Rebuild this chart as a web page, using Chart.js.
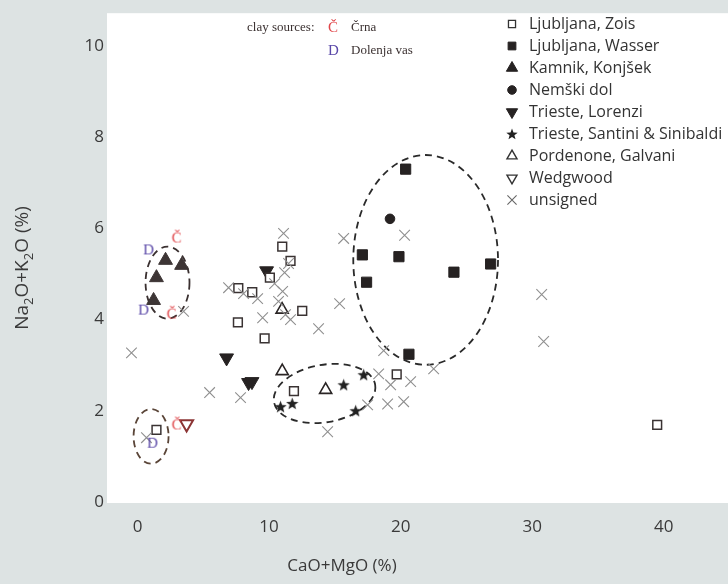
<!DOCTYPE html>
<html><head><meta charset="utf-8">
<script src="https://cdn.jsdelivr.net/npm/chart.js@4.4.0/dist/chart.umd.min.js"></script>
<style>html,body{margin:0;padding:0;background:#dde3e3;overflow:hidden}</style>
</head><body>
<canvas id="c" width="728" height="584" style="width:728px;height:584px;display:block"></canvas>
<script>
// ---- axis ticks ----
const X_TICKS = [0, 10, 20, 30, 40];
const Y_TICKS = [0, 2, 4, 6, 8, 10];
const X_TITLE = 'CaO+MgO (%)';
const Y_TITLE_PARTS = [['Na', 0], ['2', 1], ['O+K', 0], ['2', 1], ['O (%)', 0]];

// ---- series (CaO+MgO %, Na2O+K2O %) ----
const zoisX = [11.0, 11.63, 10.06, 7.66, 8.72, 12.52, 7.63, 9.66, 11.89, 19.7, 1.44, 39.5];
const zoisY = [5.60, 5.29, 4.92, 4.69, 4.60, 4.19, 3.94, 3.59, 2.43, 2.80, 1.58, 1.69];
const wasserX = [20.38, 17.09, 19.87, 24.05, 26.84, 17.41, 20.63];
const wasserY = [7.30, 5.42, 5.38, 5.04, 5.22, 4.82, 3.24];
const kamnikX = [2.13, 3.35, 1.44, 1.22];
const kamnikY = [5.30, 5.19, 4.92, 4.42];
const nemskiX = [19.19];
const nemskiY = [6.21];
const lorenziX = [9.81, 6.77, 8.44, 8.70];
const lorenziY = [5.07, 3.16, 2.62, 2.64];
const santiniX = [10.87, 11.76, 15.67, 17.19, 16.58];
const santiniY = [2.09, 2.16, 2.57, 2.79, 2.00];
const pordenoneX = [11.0, 14.3, 10.99];
const pordenoneY = [2.87, 2.46, 4.22];
const wedgwoodX = [3.73];
const wedgwoodY = [1.71];
const unsignedX = [-0.46, 3.50, 0.68, 5.48, 7.83, 11.10, 6.92, 8.06, 9.13, 9.51, 11.18, 11.03, 10.72, 11.25, 11.63, 13.76, 15.67, 20.30, 15.36, 30.72, 30.87, 14.45, 18.71, 22.51, 18.33, 19.24, 20.76, 19.01, 20.23, 17.49, 10.42, 11.48];
const unsignedY = [3.27, 4.18, 1.41, 2.40, 2.29, 5.89, 4.70, 4.57, 4.46, 4.04, 5.03, 4.62, 4.40, 4.11, 4.00, 3.80, 5.78, 5.85, 4.35, 4.55, 3.52, 1.54, 3.32, 2.92, 2.81, 2.57, 2.64, 2.15, 2.20, 2.13, 4.79, 5.23];
// clay sources
const crnaX = [2.97, 2.59, 2.97];
const crnaY = [5.80, 4.13, 1.70];
const dolenjaX = [0.84, 0.46, 1.14];
const dolenjaY = [5.54, 4.22, 1.30];

// groupings (dashed ellipses): centre and semi-axes in data units
const groupCX = [2.28, 1.03, 21.9, 14.22];
const groupCY = [4.81, 1.44, 5.31, 2.38];
const groupRX = [1.67, 1.33, 5.5, 3.9];
const groupRY = [0.79, 0.60, 2.30, 0.63];

const LABELS = ['Ljubljana, Zois', 'Ljubljana, Wasser', 'Kamnik, Konjšek', 'Nemški dol', 'Trieste, Lorenzi', 'Trieste, Santini & Sinibaldi', 'Pordenone, Galvani', 'Wedgwood', 'unsigned'];
const CLAY_TITLE = 'clay sources:';
const CLAY_NAMES = ['Črna', 'Dolenja vas'];
const CLAY_MARKS = ['Č', 'D'];

function pts(xs, ys) { return xs.map((x, i) => ({x: x, y: ys[i]})); }

function starImg(size, color) {
  const c = document.createElement('canvas'); c.width = size; c.height = size;
  const g = c.getContext('2d'); g.fillStyle = color; g.beginPath();
  const cx = size / 2, cy = size / 2 + 0.5, R = size / 2, r = R * 0.42;
  for (let i = 0; i < 10; i++) {
    const a = -Math.PI / 2 + i * Math.PI / 5; const rr = i % 2 ? r : R;
    g.lineTo(cx + rr * Math.cos(a), cy + rr * Math.sin(a));
  }
  g.closePath(); g.fill(); return c;
}
function letterImg(ch, color) {
  const c = document.createElement('canvas'); c.width = 16; c.height = 20;
  const g = c.getContext('2d'); g.fillStyle = color; g.font = '15px "Liberation Serif", serif';
  g.textAlign = 'center'; g.textBaseline = 'middle'; g.fillText(ch, 8, 11); return c;
}
const STAR = starImg(13, '#222');
const STAR_L = starImg(12, '#222');
const CRNA_IMG = letterImg(CLAY_MARKS[0], '#e0464a');
const DOL_IMG = letterImg(CLAY_MARKS[1], '#5a48a8');

const DARK = '#262222';
const datasets = [
  {label: CLAY_NAMES[0], data: pts(crnaX, crnaY), pointStyle: CRNA_IMG, pointRadius: 8},
  {label: CLAY_NAMES[1], data: pts(dolenjaX, dolenjaY), pointStyle: DOL_IMG, pointRadius: 8},
  {label: LABELS[8], data: pts(unsignedX, unsignedY), pointStyle: 'crossRot', pointRadius: 7.5, borderColor: '#8f8f8f', borderWidth: 1.1, backgroundColor: 'rgba(0,0,0,0)'},
  {label: LABELS[0], data: pts(zoisX, zoisY), pointStyle: 'rect', pointRadius: 6.2, borderColor: '#3a3333', borderWidth: 1.5, backgroundColor: '#ffffff'},
  {label: LABELS[1], data: pts(wasserX, wasserY), pointStyle: 'rect', pointRadius: 7.2, borderColor: DARK, borderWidth: 1, backgroundColor: DARK},
  {label: LABELS[2], data: pts(kamnikX, kamnikY), pointStyle: 'triangle', pointRadius: 8, borderColor: '#3d3535', borderWidth: 1, backgroundColor: '#3d3535'},
  {label: LABELS[3], data: pts(nemskiX, nemskiY), pointStyle: 'circle', pointRadius: 4.8, borderColor: DARK, borderWidth: 1, backgroundColor: DARK},
  {label: LABELS[4], data: pts(lorenziX, lorenziY), pointStyle: 'triangle', rotation: 180, pointRadius: 8, borderColor: DARK, borderWidth: 1, backgroundColor: DARK},
  {label: LABELS[5], data: pts(santiniX, santiniY), pointStyle: STAR, pointRadius: 7},
  {label: LABELS[6], data: pts(pordenoneX, pordenoneY), pointStyle: 'triangle', pointRadius: 7, borderColor: '#2a2525', borderWidth: 1.6, backgroundColor: '#ffffff'},
  {label: LABELS[7], data: pts(wedgwoodX, wedgwoodY), pointStyle: 'triangle', rotation: 180, pointRadius: 7.5, borderColor: '#8b3434', borderWidth: 2, backgroundColor: 'rgba(255,255,255,0)'}
];

const LEGEND_STYLES = [
  {pointStyle: 'rect', radius: 5, fill: '#fff', stroke: '#333', bw: 1.3},
  {pointStyle: 'rect', radius: 5.5, fill: DARK, stroke: DARK, bw: 1},
  {pointStyle: 'triangle', radius: 6.5, fill: DARK, stroke: DARK, bw: 1},
  {pointStyle: 'circle', radius: 4.3, fill: DARK, stroke: DARK, bw: 1},
  {pointStyle: 'triangle', radius: 6.5, rotation: 180, fill: DARK, stroke: DARK, bw: 1},
  {pointStyle: STAR_L, radius: 6, fill: DARK, stroke: DARK, bw: 0},
  {pointStyle: 'triangle', radius: 5.8, fill: '#fff', stroke: '#333', bw: 1.4},
  {pointStyle: 'triangle', radius: 5.8, rotation: 180, fill: '#fff', stroke: '#333', bw: 1.4},
  {pointStyle: 'crossRot', radius: 6.5, fill: 'rgba(0,0,0,0)', stroke: '#666', bw: 1.1}
];

const decor = {
  id: 'decor',
  beforeDraw(chart) {
    const {ctx, chartArea: a} = chart;
    ctx.save();
    ctx.fillStyle = '#dde3e3'; ctx.fillRect(0, 0, chart.width, chart.height);
    ctx.fillStyle = '#ffffff'; ctx.fillRect(a.left, a.top, chart.width - a.left, a.bottom - a.top);
    ctx.restore();
  },
  beforeDatasetsDraw(chart) {
    const {ctx} = chart; const xs = chart.scales.x, ys = chart.scales.y;
    const rots = [0, 0, 0, -0.17];
    const cols = ['#3a3030', '#5a4538', '#2a2a2a', '#2a2a2a'];
    ctx.save(); ctx.setLineDash([7, 5]); ctx.lineWidth = 1.8;
    for (let i = 0; i < groupCX.length; i++) {
      const cx = xs.getPixelForValue(groupCX[i]), cy = ys.getPixelForValue(groupCY[i]);
      const rx = Math.abs(xs.getPixelForValue(groupCX[i] + groupRX[i]) - cx);
      const ry = Math.abs(ys.getPixelForValue(groupCY[i] + groupRY[i]) - cy);
      ctx.strokeStyle = cols[i]; ctx.beginPath();
      ctx.ellipse(cx, cy, rx, ry, rots[i], 0, Math.PI * 2); ctx.stroke();
    }
    ctx.restore();
  },
  afterDraw(chart) {
    const {ctx} = chart;
    ctx.save();
    // axis titles
    ctx.fillStyle = '#3a3a3a'; ctx.font = '17px "Open Sans", sans-serif';
    ctx.textAlign = 'center'; ctx.textBaseline = 'middle';
    ctx.fillText(X_TITLE, 342, 566);
    ctx.translate(23, 268); ctx.rotate(-Math.PI / 2);
    let total = 0;
    const fBig = '19px "Open Sans", sans-serif', fSmall = '13px "Open Sans", sans-serif';
    Y_TITLE_PARTS.forEach(p => { ctx.font = p[1] ? fSmall : fBig; total += ctx.measureText(p[0]).width; });
    let x = -total / 2; ctx.textAlign = 'left';
    Y_TITLE_PARTS.forEach(p => { ctx.font = p[1] ? fSmall : fBig; ctx.fillText(p[0], x, p[1] ? 6 : 0); x += ctx.measureText(p[0]).width; });
    ctx.restore();
    // legend
    ctx.save();
    ctx.font = '16px "Open Sans", sans-serif'; ctx.textBaseline = 'middle'; ctx.textAlign = 'left';
    LABELS.forEach((lab, i) => {
      const y = 24 + i * 22, st = LEGEND_STYLES[i];
      ctx.fillStyle = st.fill; ctx.strokeStyle = st.stroke; ctx.lineWidth = st.bw;
      Chart.helpers.drawPoint(ctx, {pointStyle: st.pointStyle, radius: st.radius, rotation: st.rotation || 0, borderWidth: st.bw}, 512, y);
      ctx.fillStyle = '#333'; ctx.fillText(lab, 529, y);
    });
    ctx.restore();
    // clay sources note
    ctx.save();
    ctx.font = '13px "Liberation Serif", serif'; ctx.textBaseline = 'middle'; ctx.textAlign = 'left';
    ctx.fillStyle = '#3a3030'; ctx.fillText(CLAY_TITLE, 247, 28);
    ctx.font = '15px "Liberation Serif", serif';
    ctx.fillStyle = '#e0464a'; ctx.fillText(CLAY_MARKS[0], 328, 28);
    ctx.fillStyle = '#5a48a8'; ctx.fillText(CLAY_MARKS[1], 328, 51);
    ctx.font = '13px "Liberation Serif", serif'; ctx.fillStyle = '#3a3030';
    ctx.fillText(CLAY_NAMES[0], 351, 28); ctx.fillText(CLAY_NAMES[1], 351, 51);
    ctx.restore();
  }
};

new Chart(document.getElementById('c'), {
  type: 'scatter',
  data: {datasets: datasets},
  options: {
    responsive: false, animation: false, devicePixelRatio: 1,
    layout: {padding: {top: 10, right: 0, left: 0, bottom: 0}},
    plugins: {legend: {display: false}, tooltip: {enabled: false}},
    scales: {
      x: {
        type: 'linear', min: -2.32, max: 44.16,
        grid: {display: false, drawTicks: false}, border: {display: false},
        ticks: {font: {size: 17, family: '"Open Sans", sans-serif'}, color: '#3a3a3a', padding: 14},
        afterBuildTicks: s => { s.ticks = X_TICKS.map(v => ({value: v})); },
        afterFit: s => { s.height = 81; }
      },
      y: {
        type: 'linear', min: -0.022, max: 10.72,
        grid: {display: false, drawTicks: false}, border: {display: false},
        ticks: {font: {size: 17, family: '"Open Sans", sans-serif'}, color: '#3a3a3a', padding: 3},
        afterBuildTicks: s => { s.ticks = Y_TICKS.map(v => ({value: v})); },
        afterFit: s => { s.width = 107; }
      }
    }
  },
  plugins: [decor]
});
</script>
</body></html>
